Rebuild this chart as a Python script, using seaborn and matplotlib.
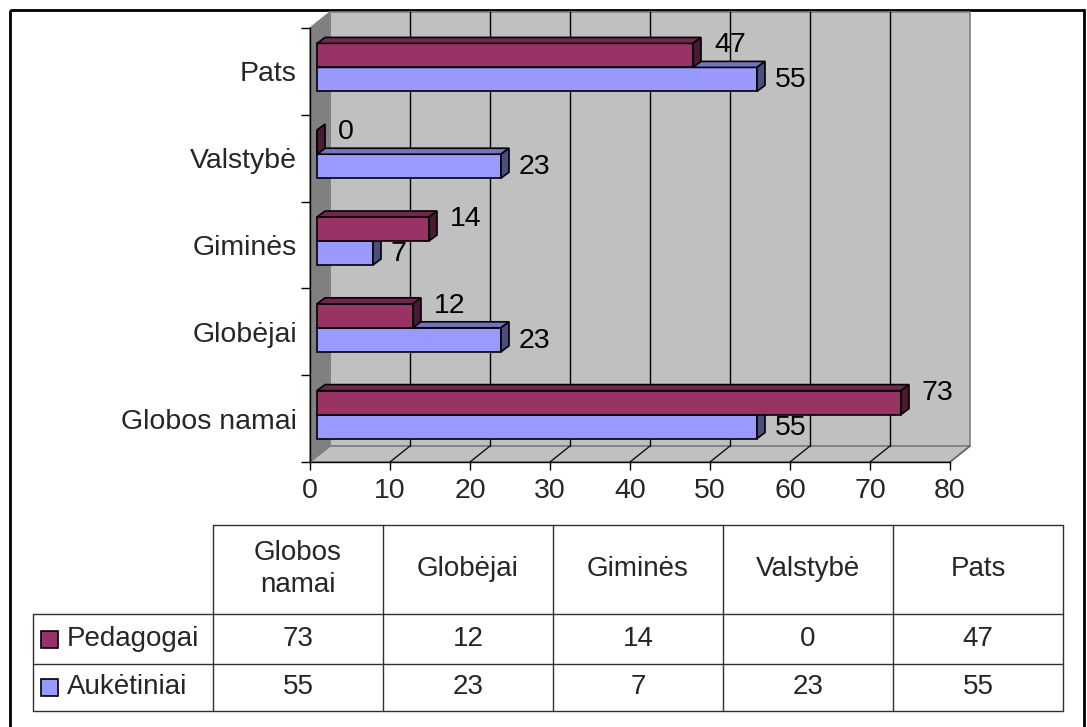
import numpy as np
import pandas as pd
import matplotlib.pyplot as plt
import seaborn as sns
from matplotlib.patches import Polygon, Rectangle

# duomenys
categories = ['Globos namai', 'Globėjai', 'Giminės', 'Valstybė', 'Pats']
series = ['Pedagogai', 'Aukėtiniai']
pedagogai = [73, 12, 14, 0, 47]
auketiniai = [55, 23, 7, 23, 55]
x_ticks = [0, 10, 20, 30, 40, 50, 60, 70, 80]

colors = {'Pedagogai': '#993366', 'Aukėtiniai': '#9999FF'}
top_colors = {'Pedagogai': '#73264D', 'Aukėtiniai': '#7373BF'}
side_colors = {'Pedagogai': '#4D1A33', 'Aukėtiniai': '#4D4D80'}

df = pd.DataFrame({
    'kat': categories * 2,
    'serija': [series[0]] * 5 + [series[1]] * 5,
    'reiksme': pedagogai + auketiniai,
})

sns.set_theme(style='white')
plt.rcParams['font.family'] = ['Liberation Sans', 'DejaVu Sans']

W, H = 1087, 727
fig = plt.figure(figsize=(W / 100, H / 100), dpi=100)

# priekine plokstuma: x 310..950, y 28..462 (pikseliai)
ax_l, ax_r, ax_t, ax_b = 310, 950, 28, 462
ax = fig.add_axes([ax_l / W, (H - ax_b) / H, (ax_r - ax_l) / W, (ax_b - ax_t) / H])
ax.set_facecolor('none')

sns.barplot(data=df, x='reiksme', y='kat', hue='serija', order=categories[::-1],
            hue_order=series, palette=colors, saturation=1, width=0.553,
            edgecolor='black', linewidth=1.2, legend=False, ax=ax)

ax.set_xlim(0, 80)
ax.set_ylim(4.5, -0.5)
ux = 80 / (ax_r - ax_l)   # vienetai per pikseli
uy = 5 / (ax_b - ax_t)

# 3D siena, sonas ir grindys
dx, dy = 20 * ux, 16 * uy
ax.add_patch(Rectangle((dx, -0.5 - dy), 80, 5, facecolor='#C0C0C0', edgecolor='#808080',
                       lw=1.2, zorder=0, clip_on=False))
ax.add_patch(Polygon([(0, -0.5), (dx, -0.5 - dy), (dx, 4.5 - dy), (0, 4.5)],
                     facecolor='#808080', edgecolor='#808080', lw=1, zorder=0.5, clip_on=False))
ax.add_patch(Polygon([(0, 4.5), (80, 4.5), (80 + dx, 4.5 - dy), (dx, 4.5 - dy)],
                     facecolor='#C0C0C0', edgecolor='#808080', lw=1.2, zorder=0.5, clip_on=False))
for t in x_ticks[1:-1]:
    ax.plot([t + dx, t + dx], [-0.5 - dy, 4.5 - dy], color='black', lw=1, zorder=0.6, clip_on=False)
    ax.plot([t, t + dx], [4.5, 4.5 - dy], color='black', lw=0.9, zorder=0.6, clip_on=False)
ax.plot([80, 80 + dx], [4.5, 4.5 - dy], color='#606060', lw=0.9, zorder=0.6, clip_on=False)

# stulpeliu 3D efektas
bx, by = 7 * ux, 4 * uy
fx, fy = 8 * ux, 6 * uy
label_off = {'Pedagogai': (21, 10), 'Aukėtiniai': (18, -1)}
for name, cont in zip(series, ax.containers):
    z = 4 if name == 'Pedagogai' else 3
    for bar in cont:
        bar.set_x(bar.get_x() + bx)
        bar.set_y(bar.get_y() - by)
        bar.set_zorder(z)
        bar.set_clip_on(False)
        x0 = bar.get_x()
        x1 = x0 + bar.get_width()
        yt = bar.get_y()
        yb = yt + bar.get_height()
        ax.add_patch(Polygon([(x0, yt), (x1, yt), (x1 + fx, yt - fy), (x0 + fx, yt - fy)],
                             facecolor=top_colors[name], edgecolor='black', lw=1.2,
                             zorder=z, clip_on=False))
        ax.add_patch(Polygon([(x1, yt), (x1, yb), (x1 + fx, yb - fy), (x1 + fx, yt - fy)],
                             facecolor=side_colors[name], edgecolor='black', lw=1.2,
                             zorder=z, clip_on=False))
        ax.annotate(f'{bar.get_width():.0f}', xy=(x1, (yt + yb) / 2),
                    xytext=label_off[name], textcoords='offset pixels',
                    ha='left', va='center', fontsize=20.5, color='black', zorder=6)

# asys
ax.set_xlabel('')
ax.set_ylabel('')
ax.set_xticks(x_ticks)
ax.set_yticks(np.arange(-0.5, 5, 1), minor=True)
ax.tick_params(axis='x', length=5.8, width=1, color='black', direction='out', pad=5.5,
               labelsize=20.5, bottom=True)
ax.tick_params(axis='y', which='major', length=0, pad=9.4, labelsize=20.5, left=True)
ax.tick_params(axis='y', which='minor', length=6.5, width=1, color='black',
               direction='out', left=True)
for s in ['top', 'right']:
    ax.spines[s].set_visible(False)
for s in ['left', 'bottom']:
    ax.spines[s].set_color('black')
    ax.spines[s].set_linewidth(1)
    ax.spines[s].set_zorder(2)

# lentele apacioje
tb = fig.add_axes([0, 0, 1, 1])
tb.set_xlim(0, W)
tb.set_ylim(H, 0)
tb.axis('off')
tb.set_zorder(-1)

col_x = [213, 383, 553, 723, 893, 1063]
row_y = [525, 614, 664, 711]
lc = '#303030'
tb.plot([col_x[0], col_x[-1]], [row_y[0], row_y[0]], color=lc, lw=1)
for y in row_y[1:]:
    tb.plot([33, col_x[-1]], [y, y], color=lc, lw=1)
for x in col_x:
    tb.plot([x, x], [row_y[0], row_y[-1]], color=lc, lw=1)
tb.plot([33, 33], [row_y[1], row_y[-1]], color=lc, lw=1)

for i, c in enumerate(categories):
    cx = (col_x[i] + col_x[i + 1]) / 2
    tb.text(cx, (row_y[0] + row_y[1]) / 2, c.replace(' ', '\n'), ha='center', va='center',
            fontsize=20, linespacing=1.3)
    for r, vals in enumerate([pedagogai, auketiniai]):
        tb.text(cx, (row_y[r + 1] + row_y[r + 2]) / 2, str(vals[i]), ha='center', va='center',
                fontsize=20)

for r, name in enumerate(series):
    cy = (row_y[r + 1] + row_y[r + 2]) / 2
    tb.add_patch(Rectangle((41, cy - 8.5), 17, 17, facecolor=colors[name], edgecolor='black', lw=1.2))
    tb.text(67, cy, name, ha='left', va='center', fontsize=20)

# remelis
tb.add_patch(Rectangle((10, 10), 1074, 740, facecolor='none', edgecolor='black', lw=2,
                       clip_on=False))

fig.savefig('out.png', dpi=100)
